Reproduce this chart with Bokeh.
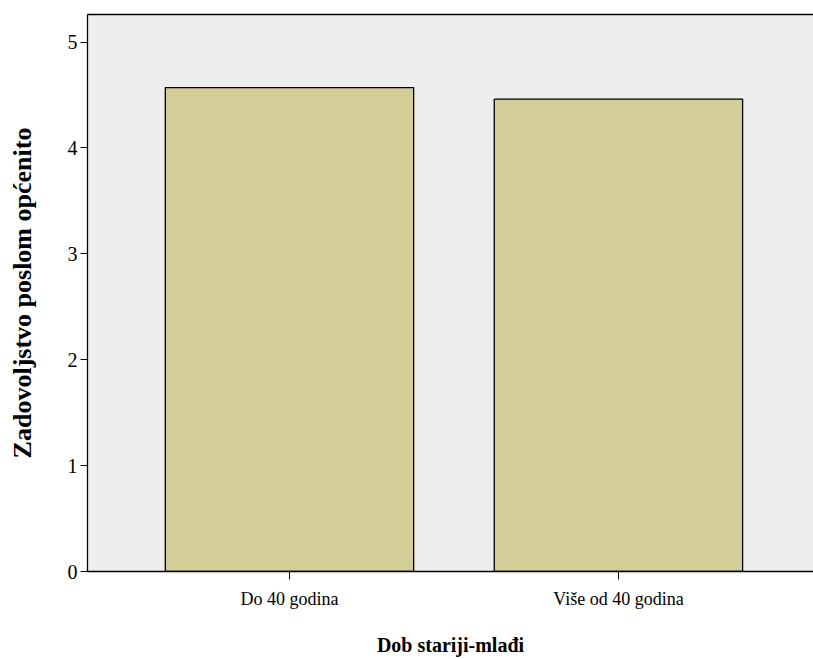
import numpy as np
from bokeh.plotting import figure
from bokeh.models import Range1d, FixedTicker, LinearAxis, ColumnDataSource
from bokeh.embed import file_html
from bokeh.resources import INLINE

categories = ["Do 40 godina", "Više od 40 godina"]
values = [4.57, 4.46]
y_ticks = [0, 1, 2, 3, 4, 5]
x_title = "Dob stariji-mlađi"
y_title = "Zadovoljstvo poslom općenito"

xs = np.arange(len(categories))
src = ColumnDataSource(dict(x=xs, top=values))

FONT = "'Liberation Serif', 'Times New Roman', serif"

p = figure(width=813, height=658, output_backend="svg", toolbar_location=None,
           x_range=Range1d(-0.614, len(categories) - 0.407), y_range=Range1d(0, 5.26),
           min_border_left=87, min_border_top=14, min_border_bottom=84, min_border_right=0)
p.background_fill_color = "#eeeeee"
p.border_fill_color = "white"
p.outline_line_color = None
p.grid.visible = False

p.vbar(x="x", top="top", width=0.755, source=src, fill_color="#d3ce98",
       line_color="black", line_width=1.3)

# x axis
xa = p.xaxis[0]
xa.ticker = FixedTicker(ticks=list(xs))
xa.major_label_overrides = {int(i): c for i, c in zip(xs, categories)}
xa.axis_line_color = "black"
xa.axis_line_width = 1.3
xa.major_tick_out = 8
xa.major_tick_in = 0
xa.minor_tick_out = 0
xa.minor_tick_in = 0
xa.major_label_text_font = FONT
xa.major_label_text_font_size = "18px"
xa.major_label_text_color = "black"
xa.major_label_standoff = 9
xa.axis_label = x_title
xa.axis_label_text_font = FONT
xa.axis_label_text_font_style = "bold"
xa.axis_label_text_font_size = "20px"
xa.axis_label_text_color = "black"
xa.axis_label_standoff = 22

# y axis
ya = p.yaxis[0]
ya.ticker = FixedTicker(ticks=y_ticks)
ya.axis_line_color = "black"
ya.axis_line_width = 1.3
ya.major_tick_out = 7
ya.major_tick_in = 0
ya.minor_tick_out = 0
ya.minor_tick_in = 0
ya.major_label_text_font = FONT
ya.major_label_text_font_size = "20px"
ya.major_label_text_color = "black"
ya.major_label_standoff = 3
ya.axis_label = y_title
ya.axis_label_text_font = FONT
ya.axis_label_text_font_style = "bold"
ya.axis_label_text_font_size = "26px"
ya.axis_label_text_color = "black"
ya.axis_label_standoff = 28

# top border
top = LinearAxis(ticker=FixedTicker(ticks=[]), major_label_text_font_size="0px",
                 axis_line_color="black", axis_line_width=1.3,
                 major_tick_out=0, minor_tick_out=0, major_tick_in=0, minor_tick_in=0)
p.add_layout(top, "above")

open("out.html", "w").write(file_html(p, INLINE))
